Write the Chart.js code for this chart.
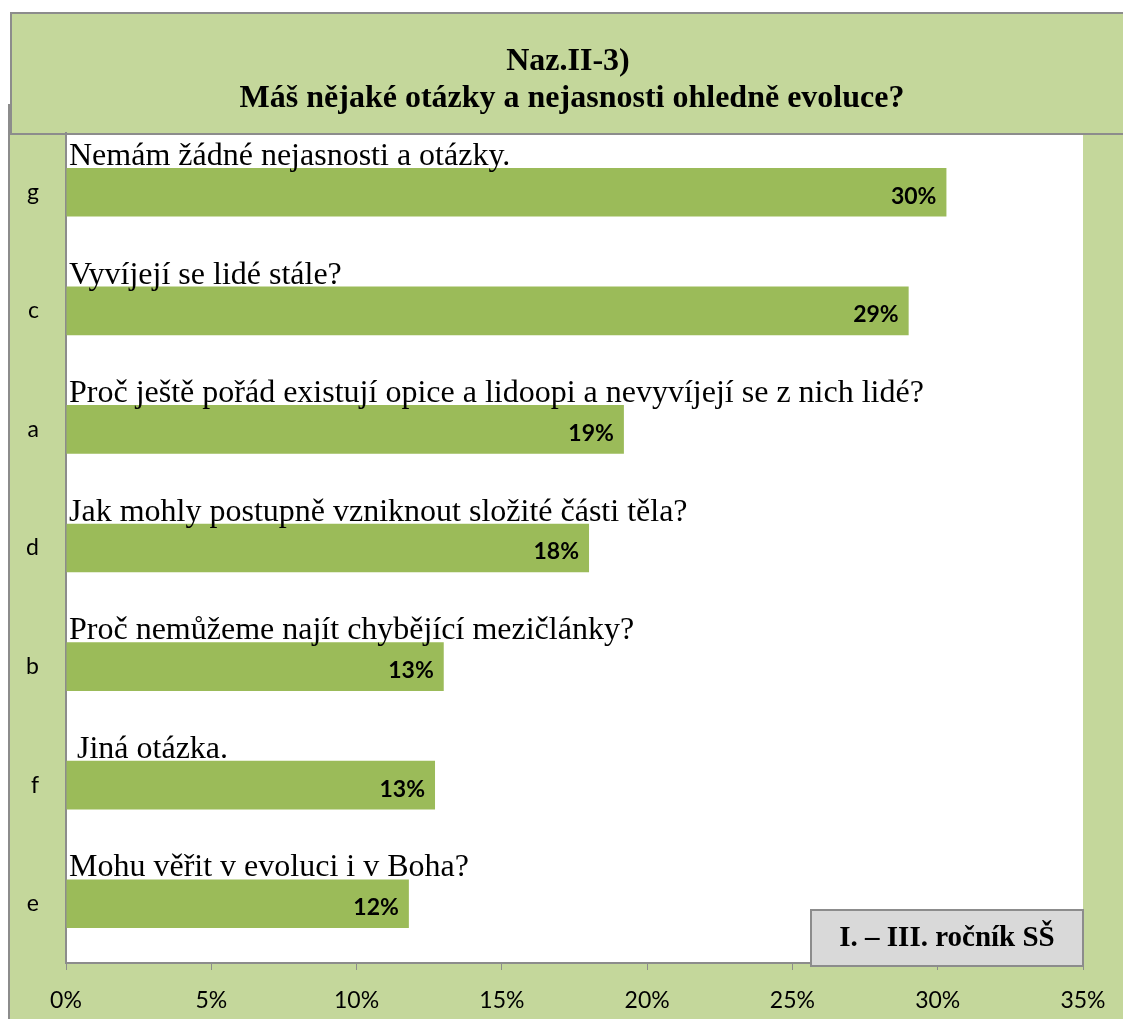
<!DOCTYPE html>
<html>
<head>
<meta charset="utf-8">
<script src="https://cdn.jsdelivr.net/npm/chart.js@4.4.1/dist/chart.umd.min.js"></script>
<style>
  html, body { margin: 0; padding: 0; background: #ffffff; }
  #wrap { width: 1123px; height: 1019px; position: relative; }
</style>
</head>
<body>
<div id="wrap"><canvas id="graf"></canvas></div>
<script>
// Data
const kategorie = ["g", "c", "a", "d", "b", "f", "e"];
const otazky = [
  "Nemám žádné nejasnosti a otázky.",
  "Vyvíjejí se lidé stále?",
  "Proč ještě pořád existují opice a lidoopi a nevyvíjejí se z nich lidé?",
  "Jak mohly postupně vzniknout složité části těla?",
  "Proč nemůžeme najít chybějící mezičlánky?",
  " Jiná otázka.",
  "Mohu věřit v evoluci i v Boha?"
];
const hodnoty = [30.3, 29.0, 19.2, 18.0, 13.0, 12.7, 11.8];
const titulek = ["Naz.II-3)", "Máš nějaké otázky a nejasnosti ohledně evoluce?"];
const poznamka = "I. – III. ročník SŠ";

const zelenaSvetla = "#c4d79b";
const zelenaBar = "#9bbb59";
const seda = "#8c8c8c";

// Pozadí, rámeček titulku, bílá plocha grafu
const pozadiPlugin = {
  id: "pozadi",
  beforeDraw(chart) {
    const { ctx, chartArea: a, width, height } = chart;
    ctx.save();
    ctx.fillStyle = "#ffffff";
    ctx.fillRect(0, 0, width, height);
    ctx.fillStyle = zelenaSvetla;
    ctx.fillRect(8, 104, width - 8, height - 104);
    ctx.strokeStyle = seda;
    ctx.lineWidth = 2;
    ctx.beginPath();
    ctx.moveTo(9, 104);
    ctx.lineTo(9, height);
    ctx.stroke();
    // plocha grafu
    ctx.fillStyle = "#ffffff";
    ctx.fillRect(a.left, a.top, a.right - a.left, a.bottom - a.top);
    // titulek
    ctx.fillStyle = zelenaSvetla;
    ctx.fillRect(10, 12, width, 122);
    ctx.strokeRect(11, 13, width, 121);
    ctx.fillStyle = "#000000";
    ctx.font = "bold 32px 'Liberation Serif'";
    ctx.textAlign = "center";
    ctx.textBaseline = "middle";
    ctx.fillText(titulek[0], 568, 62);
    ctx.fillText(titulek[1], 572, 99);
    ctx.restore();
  }
};

// Texty otázek nad sloupci, popisky hodnot, poznámka
const textyPlugin = {
  id: "texty",
  afterDatasetsDraw(chart) {
    const { ctx } = chart;
    const meta = chart.getDatasetMeta(0);
    ctx.save();
    meta.data.forEach((bar, i) => {
      const horni = bar.y - bar.height / 2;
      ctx.fillStyle = "#000000";
      ctx.font = "32px 'Liberation Serif'";
      ctx.textAlign = "left";
      ctx.textBaseline = "alphabetic";
      ctx.fillText(otazky[i], chart.chartArea.left + 3, horni - 3);
      ctx.font = "bold 23px Lato";
      ctx.textAlign = "right";
      ctx.textBaseline = "middle";
      ctx.fillText(Math.round(hodnoty[i]) + "%", bar.x - 10, bar.y + 4);
    });
    // poznámka
    ctx.fillStyle = "#d9d9d9";
    ctx.fillRect(811, 910, 272, 56);
    ctx.strokeStyle = seda;
    ctx.lineWidth = 2;
    ctx.strokeRect(811, 910, 272, 56);
    ctx.fillStyle = "#000000";
    ctx.font = "bold 29px 'Liberation Serif'";
    ctx.textAlign = "center";
    ctx.textBaseline = "middle";
    ctx.fillText(poznamka, 947, 939);
    ctx.restore();
  }
};

new Chart(document.getElementById("graf"), {
  type: "bar",
  data: {
    labels: kategorie,
    datasets: [{
      data: hodnoty,
      backgroundColor: zelenaBar,
      borderWidth: 0,
      barPercentage: 0.41,
      categoryPercentage: 1
    }]
  },
  options: {
    indexAxis: "y",
    responsive: true,
    maintainAspectRatio: false,
    animation: false,
    layout: { padding: { top: 133, right: 40, left: 0, bottom: 0 } },
    plugins: { legend: { display: false }, tooltip: { enabled: false } },
    scales: {
      x: {
        min: 0,
        max: 35,
        ticks: {
          stepSize: 5,
          color: "#000000",
          font: { family: "Lato", size: 23 },
          padding: 17,
          callback: v => v + "%"
        },
        grid: { drawOnChartArea: false, drawTicks: true, tickLength: 7, color: seda },
        border: { display: true, color: seda, width: 2 },
        afterFit(scale) { scale.height = 56; }
      },
      y: {
        ticks: {
          color: "#000000",
          font: { family: "Lato", size: 23 },
          padding: 27
        },
        grid: { display: false, drawTicks: false },
        border: { display: true, color: seda, width: 2 },
        afterFit(scale) { scale.width = 66; }
      }
    }
  },
  plugins: [pozadiPlugin, textyPlugin]
});
</script>
</body>
</html>
